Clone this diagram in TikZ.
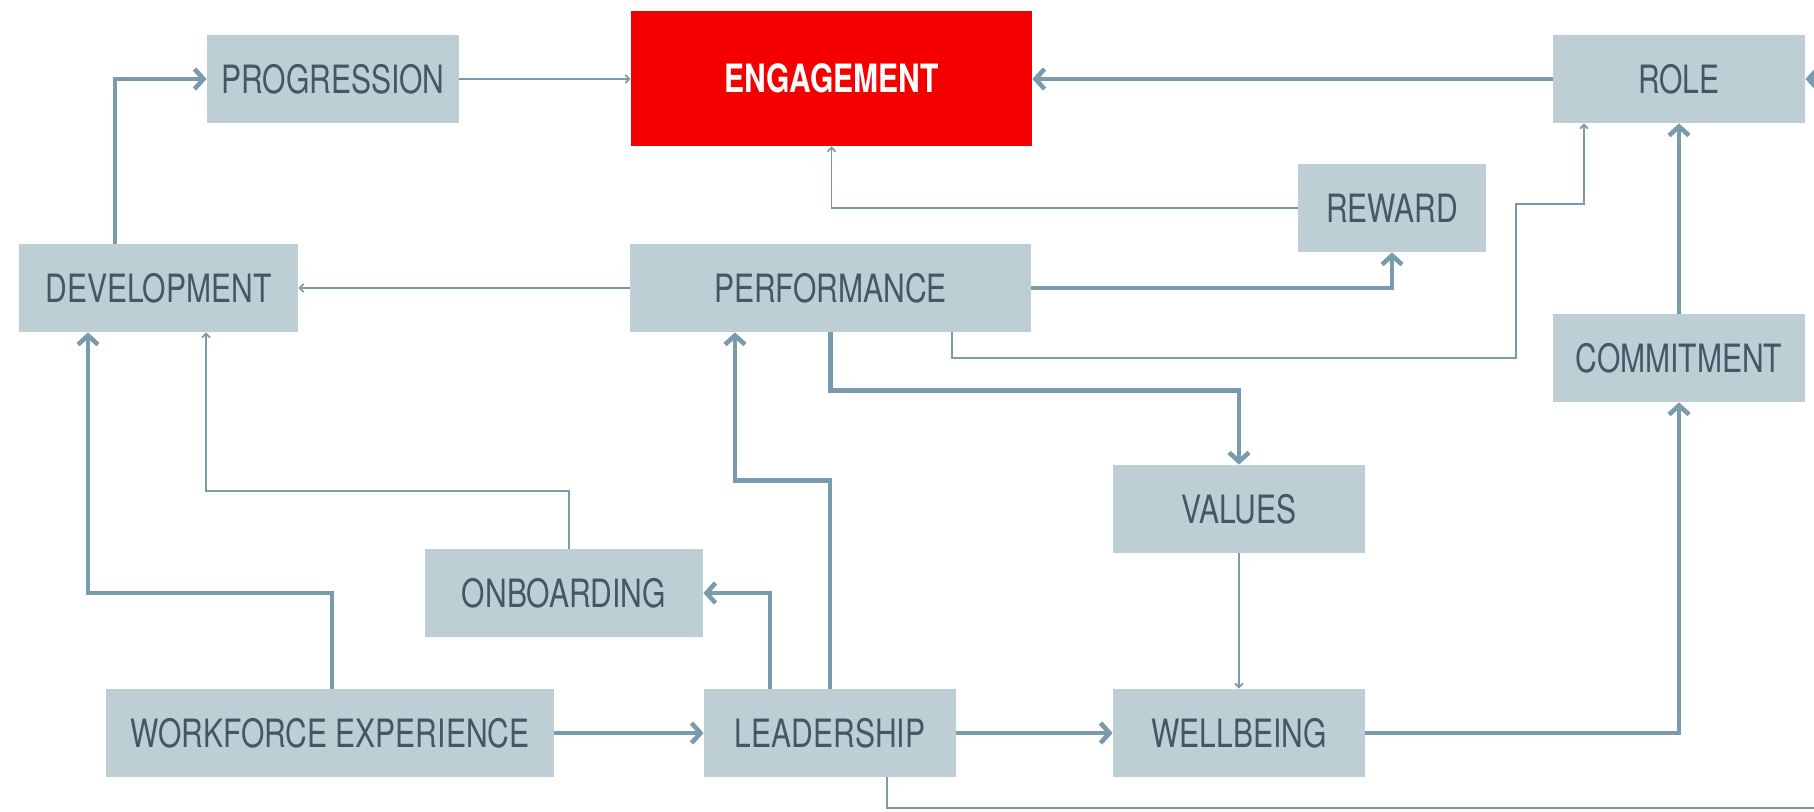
\documentclass[tikz,border=0pt]{standalone}
\usepackage{fontspec}
\setmainfont[FakeStretch=0.77]{TeX Gyre Heros}
\usetikzlibrary{arrows.meta}
\definecolor{boxgray}{HTML}{BDCED5}
\definecolor{linegray}{HTML}{7A9AAD}
\definecolor{textgray}{HTML}{455767}
\definecolor{engred}{HTML}{F50000}

\begin{document}
\begin{tikzpicture}[x=0.5pt,y=-0.5pt,
    box/.style={fill=boxgray, text=textgray, minimum height=44pt, inner sep=0pt, font=\fontsize{19.5}{20}\selectfont},
    thickline/.style={linegray, line width=2.3pt, -{Straight Barb[length=4.5pt,width=10pt]}},
    thinline/.style={linegray, line width=0.9pt, -{Straight Barb[length=2pt,width=4pt]}}]
        \useasboundingbox (0,0) rectangle (1814,811);
        \node[box, minimum width=126pt] (progression) at (333,79) {PROGRESSION};
        \node[fill=engred, text=white, inner sep=0pt, minimum width=200.5pt, minimum height=67.5pt, font=\fontsize{19.5}{20}\selectfont\bfseries] (engagement) at (831.5,78.5) {ENGAGEMENT};
        \node[box, minimum width=126pt] (role) at (1679,79) {ROLE};
        \node[box, minimum width=94pt] (reward) at (1392,208) {REWARD};
        \node[box, minimum width=126pt] (commitment) at (1679,358) {COMMITMENT};
        \node[box, minimum width=139.5pt] (development) at (158.5,288) {DEVELOPMENT};
        \node[box, minimum width=200.5pt] (performance) at (830.5,288) {PERFORMANCE};
        \node[box, minimum width=126pt] (values) at (1239,509) {VALUES};
        \node[box, minimum width=139pt] (onboarding) at (564,593) {ONBOARDING};
        \node[box, minimum width=224pt] (workforce) at (330,733) {WORKFORCE EXPERIENCE};
        \node[box, minimum width=126pt] (leadership) at (830,733) {LEADERSHIP};
        \node[box, minimum width=126pt] (wellbeing) at (1239,733) {WELLBEING};
        \coordinate (edger) at (1814,79);
        \coordinate (edgeb) at (1814,808);
        \draw[thickline] (115,0 |- development.north) |- (progression.west);
        \draw[thinline] (progression.east) -- (progression.east -| engagement.west);
        \draw[thickline] (role.west) -- (role.west -| engagement.east);
        \draw[thickline] (edger) -- (role.east);
        \draw[thinline] (reward.west) -| (engagement.south);
        \draw[thickline] (performance.east) -| (reward.south);
        \draw[thinline] (952,0 |- performance.south) -- (952,358) -- (1516,358) -- (1516,204) -- (1584,204) -- (1584,0 |- role.south);
        \draw[thinline] (performance.west) -- (development.east);
        \draw[thickline] (performance.south) -- ++(0,58) -| (values.north);
        \draw[thinline] (values) -- (wellbeing);
        \draw[thickline] (wellbeing.east) -| (commitment.south);
        \draw[thickline] (commitment) -- (role);
        \draw[thickline] (leadership.north) -- ++(0,-208) -| (735,0 |- performance.south);
        \draw[thickline] (770,0 |- leadership.north) |- (onboarding.east);
        \draw[thinline] (569,0 |- onboarding.north) |- (206,491) -- (206,0 |- development.south);
        \draw[thickline] (332,0 |- workforce.north) |- (88,593) -- (88,0 |- development.south);
        \draw[thickline] (workforce) -- (leadership);
        \draw[thickline] (leadership) -- (wellbeing);
        \draw[linegray, line width=0.9pt] (887,0 |- leadership.south) |- (edgeb);
    \end{tikzpicture}
\end{document}
